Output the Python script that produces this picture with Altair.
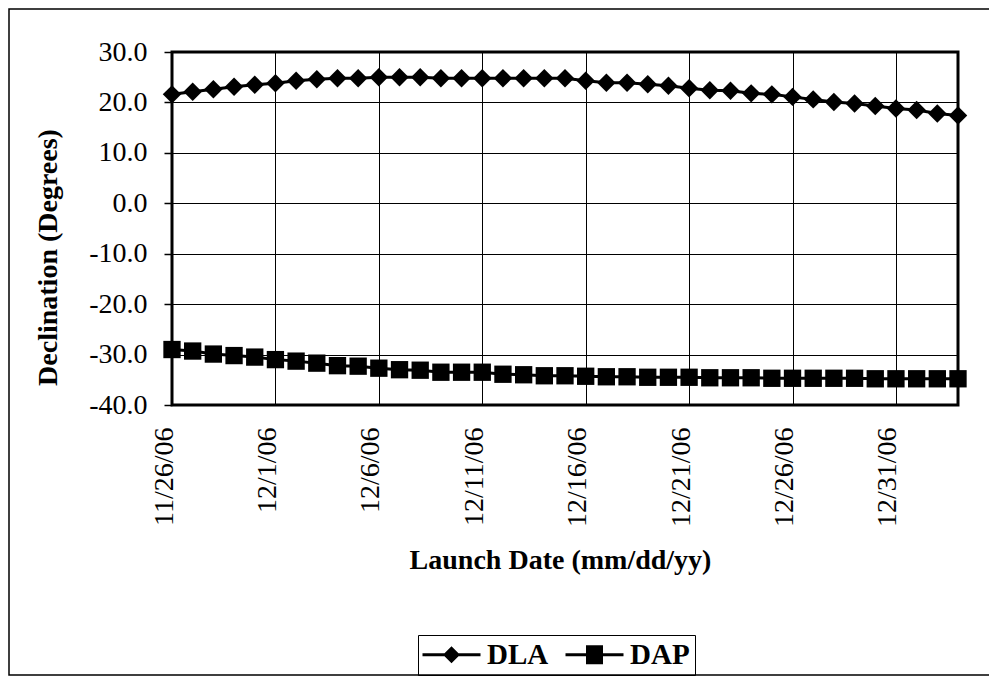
import altair as alt
import pandas as pd

# ---- data -------------------------------------------------------------
series_names = ["DLA", "DAP"]
launch_dates = pd.date_range("2006-11-26", "2007-01-03", freq="D").strftime("%Y-%m-%d").tolist()

dla_values = [21.6, 22.1, 22.6, 23.1, 23.5, 23.8, 24.3, 24.6, 24.8, 24.8,
              25.0, 25.0, 25.0, 24.8, 24.8, 24.8, 24.8, 24.8, 24.8, 24.8,
              24.3, 23.9, 23.9, 23.6, 23.3, 22.8, 22.4, 22.3, 21.8, 21.6,
              21.1, 20.6, 20.1, 19.8, 19.3, 18.8, 18.5, 17.8, 17.4]
dap_values = [-29.0, -29.3, -29.9, -30.2, -30.5, -31.0, -31.3, -31.7, -32.2, -32.3,
              -32.7, -33.0, -33.1, -33.5, -33.5, -33.5, -33.9, -34.0, -34.2, -34.2,
              -34.3, -34.4, -34.4, -34.5, -34.5, -34.5, -34.6, -34.6, -34.6, -34.7,
              -34.7, -34.7, -34.7, -34.7, -34.8, -34.8, -34.8, -34.8, -34.8]

x_tick_dates = ["2006-11-26", "2006-12-01", "2006-12-06", "2006-12-11",
                "2006-12-16", "2006-12-21", "2006-12-26", "2006-12-31"]
x_domain = ["2006-11-26", "2007-01-03"]
y_ticks = [-40, -30, -20, -10, 0, 10, 20, 30]

x_title = "Launch Date (mm/dd/yy)"
y_title = "Declination (Degrees)"

# ---- tables -------------------------------------------------------------
df = pd.DataFrame({
    "date": launch_dates * 2,
    "value": dla_values + dap_values,
    "series": ["DLA"] * len(dla_values) + ["DAP"] * len(dap_values),
})


def dt(s):
    y, m, d = (int(p) for p in s.split("-"))
    return alt.DateTime(year=y, month=m, date=d, utc=True)


FONT = "Liberation Serif"
W, H = 786, 353

x_enc = alt.X(
    "date:T",
    scale=alt.Scale(type="utc", domain=[dt(s) for s in x_domain], nice=False),
    axis=alt.Axis(
        values=[dt(s) for s in x_tick_dates],
        format="%-m/%-d/%y",
        labelAngle=270,
        labelAlign="right",
        labelBaseline="alphabetic",
        labelPadding=22,
        ticks=False,
        tickSize=0,
        domain=False,
        grid=True,
        gridColor="black",
        gridWidth=1,
        gridOpacity=1,
        labelFont=FONT,
        labelFontSize=28,
        labelColor="black",
        labelOverlap=False,
        title=x_title,
        titleFont=FONT,
        titleFontSize=28,
        titleFontWeight="bold",
        titleColor="black",
        titleX=388,
        titleY=163,
        titleAlign="center",
        titleBaseline="alphabetic",
    ),
)

y_enc = alt.Y(
    "value:Q",
    scale=alt.Scale(domain=[-40, 30], nice=False, zero=False),
    axis=alt.Axis(
        values=y_ticks,
        format=".1f",
        labelExpr="replace(datum.label, '\u2212', '-')",
        tickSize=8,
        tickColor="black",
        tickWidth=1.5,
        labelPadding=17,
        domain=False,
        grid=True,
        gridColor="black",
        gridWidth=1,
        gridOpacity=1,
        labelFont=FONT,
        labelFontSize=28,
        labelColor="black",
        title=y_title,
        titleFont=FONT,
        titleFontSize=28,
        titleFontWeight="bold",
        titleColor="black",
        titleAngle=270,
        titleX=-116,
        titleY=205,
        titleAlign="center",
        titleBaseline="alphabetic",
    ),
)

base = alt.Chart(df)

lines = base.mark_line(color="black", strokeWidth=3).encode(
    x=x_enc, y=y_enc, detail="series:N"
)

dla_points = base.transform_filter("datum.series == 'DLA'").mark_point(
    shape="diamond", filled=True, color="black", size=340, opacity=1
).encode(x="date:T", y="value:Q")

dap_points = base.transform_filter("datum.series == 'DAP'").mark_point(
    shape="square", filled=True, color="black", size=300, opacity=1
).encode(x="date:T", y="value:Q")

# legend symbols: a filled bar (the line) plus the marker, all filled shapes
dla_symbol = ("M-1.5,-0.15L4.3,-0.15L4.3,0.15L-1.5,0.15Z"
              "M1.4,-0.85L2.25,0L1.4,0.85L0.55,0Z")
dap_symbol = ("M-1.5,-0.15L4.3,-0.15L4.3,0.15L-1.5,0.15Z"
              "M0.55,-0.95L2.25,-0.95L2.25,0.95L0.55,0.95Z")

legend_layer = alt.Chart(pd.DataFrame({"series": series_names})).transform_filter(
    "false"
).mark_point(filled=True, color="black", opacity=1).encode(
    x="date:T",
    y="value:Q",
    shape=alt.Shape(
        "series:N",
        scale=alt.Scale(domain=series_names, range=[dla_symbol, dap_symbol]),
        legend=alt.Legend(
            orient="none",
            legendX=246,
            legendY=583,
            direction="horizontal",
            title=None,
            labelFont=FONT,
            labelFontSize=29,
            labelFontWeight="bold",
            labelColor="black",
            labelOffset=35,
            symbolSize=400,
            symbolStrokeWidth=0,
            symbolFillColor="black",
            symbolOpacity=1,
            strokeColor="black",
            padding=5,
            columnPadding=16,
        ),
    ),
)

frame = alt.Chart(pd.DataFrame({"k": [0]})).mark_rect(
    fill="white", fillOpacity=0, stroke="black", strokeWidth=1.5
).encode(
    x=alt.value(-163), x2=alt.value(821), y=alt.value(-43), y2=alt.value(623)
)

chart = alt.layer(frame, lines, dla_points, dap_points, legend_layer).properties(
    width=W,
    height=H,
    autosize=alt.AutoSizeParams(type="none"),
    padding={"left": 164, "top": 44, "right": 31, "bottom": 272},
    background="white",
).configure_view(stroke="black", strokeWidth=3)

chart.save("out.html", embed_options={"renderer": "svg", "actions": False})
